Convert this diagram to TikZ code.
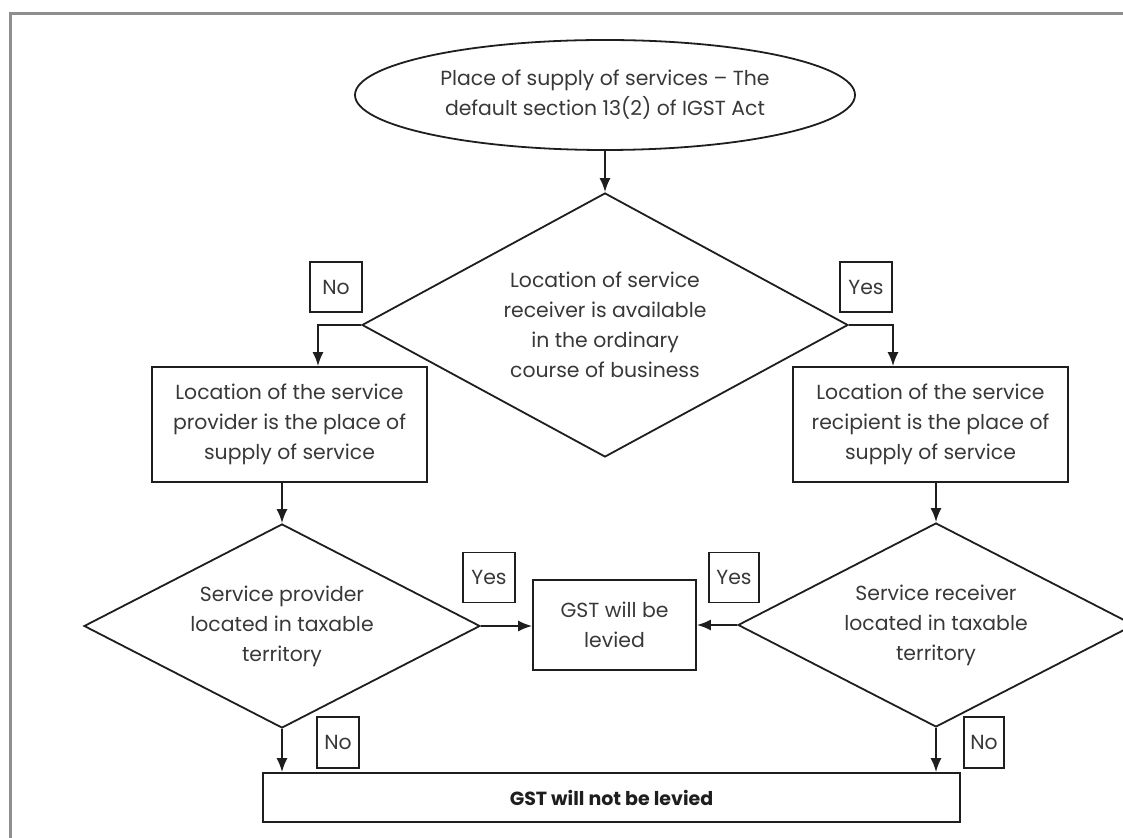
\documentclass[tikz,border=0pt]{standalone}
\usepackage{fontspec}
\setmainfont{Poppins}
\usetikzlibrary{shapes.geometric,arrows.meta}
\definecolor{inkgray}{HTML}{383838}
\definecolor{linegray}{HTML}{1E1E1E}
\definecolor{framegray}{HTML}{8E8E8E}

\begin{document}
\begin{tikzpicture}
	[x=0.5pt, y=-0.5pt,
		font=\fontsize{10.2}{15}\selectfont,
		text=inkgray,
		start/.style		={ellipse
									, draw=linegray
									, line width=0.9pt
									, align=center
									, inner sep=0pt
									, minimum width=250pt
									, minimum height=55pt
									},
		decision/.style	={diamond
									, draw=linegray
									, line width=0.9pt
									, align=center
									, inner sep=0pt
									, shape aspect=2
									, minimum width=198pt
									, minimum height=102pt
									},
		block/.style		={rectangle
									, draw=linegray
									, line width=0.9pt
									, align=center
									, inner sep=0pt
									, minimum width=137.5pt
									, minimum height=57.5pt
									},
		answer/.style		={rectangle
									, draw=linegray
									, line width=0.8pt
									, inner sep=0pt
									, minimum width=26pt
									, minimum height=25pt
									},
		line/.style		 	={draw=linegray
									, line width=0.9pt
									, -{Latex[length=7pt,width=5.5pt]}
									}
	]
\useasboundingbox (0,0) rectangle (1123,838);
\draw [framegray, line width=1.5pt] (10,14) rectangle (1140,850);

% top
\node [start] (place) at (605,95) {Place of supply of services -- The\\default section 13(2) of IGST Act};
\node [decision, shape aspect=1.85, minimum width=243pt, minimum height=132pt] (avail) at (605,325)
	{Location of service\\receiver is available\\in the ordinary\\course of business};
\node [answer] (no top) at (336,287) {No};
\node [answer] (yes top) at (866,287) {Yes};

% two branches
\node [block] (provider box) at (289.5,424.5) {Location of the service\\provider is the place of\\supply of service};
\node [block] (recipient box) at (930.5,424.5) {Location of the service\\recipient is the place of\\supply of service};
\node [decision] (provider) at (282,626) {Service provider\\located in taxable\\territory};
\node [decision] (receiver) at (936,625) {Service receiver\\located in taxable\\territory};
\node [block, minimum width=81.5pt, minimum height=45pt] (levied) at (614.5,625) {GST will be\\levied};
\node [answer] (yes left) at (489,577.5) {Yes};
\node [answer, minimum width=25pt] (yes right) at (734,577.5) {Yes};

% bottom
\node [answer, minimum width=21pt, minimum height=25.5pt] (no left) at (338,742.5) {No};
\node [answer, minimum width=20pt, minimum height=25.5pt] (no right) at (984,742.5) {No};
\node [block, minimum width=348.5pt, minimum height=24.5pt, font=\fontsize{9.5}{15}\selectfont\bfseries, text=linegray] (not levied) at (611.5,797.5) {GST will not be levied};

\begin{scope}[every path/.style=line]
	\path		(place)				-- (avail);
	\path		(avail.west)			-| ([xshift=14.25pt]provider box.north);
	\path		(avail.east)			-| ([xshift=-18.75pt]recipient box.north);
	\path		(provider.north |- provider box.south)	-- (provider.north);
	\path		(receiver.north |- recipient box.south)	-- (receiver.north);
	\path		(provider.east)		-- (provider.east -| levied.west);
	\path		(receiver.west)		-- (receiver.west -| levied.east);
	\path		(provider.south)		-- (provider.south |- not levied.north);
	\path		(receiver.south)		-- (receiver.south |- not levied.north);
\end{scope}
\end{tikzpicture}
\end{document}
